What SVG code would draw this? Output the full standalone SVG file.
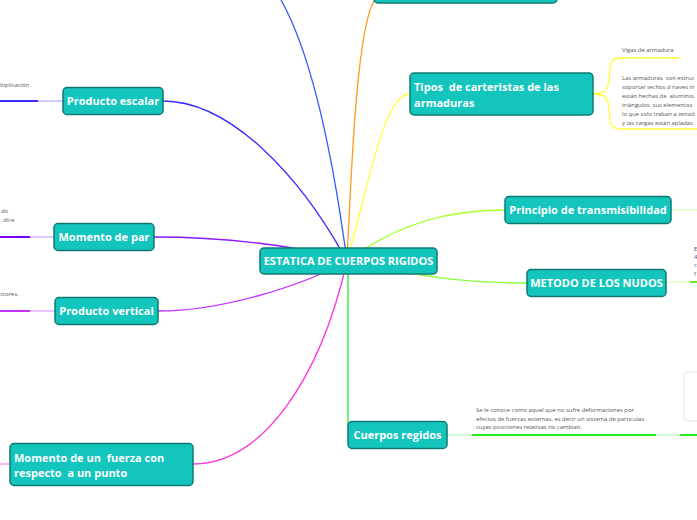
<svg xmlns="http://www.w3.org/2000/svg" width="697" height="520" viewBox="0 0 697 520">
<style>
text{white-space:pre}
.node rect{fill:#14c5bd;stroke:#0f7a73;stroke-width:1.5}
.node text{fill:#fff;font-family:"Open Sans","Noto Sans",sans-serif;font-weight:bold;font-size:11px}
.small{fill:#555;font-family:"Open Sans","Noto Sans",sans-serif;font-size:5.9px}
.c{fill:none;stroke-width:1.3}
</style>
<rect width="697" height="520" fill="#fff"/>
<g id="connectors">
<path class="c" stroke="#3a2bff" d="M347,261 C300,175 230,101 163,101"/>
<path class="c" stroke="#2f5cff" d="M347,261 C332,150 312,55 281,0"/>
<path class="c" stroke="#ff9a1a" d="M347,261 C352,150 358,20 376,-2"/>
<path class="c" stroke="#ffff33" d="M347,261 C372,170 385,94 410,94"/>
<path class="c" stroke="#aaff33" d="M347,261 C400,222 450,210 505,210"/>
<path class="c" stroke="#88ff33" d="M347,261 C420,276 460,283 527,283"/>
<path class="c" stroke="#22ee22" d="M348,261 L348,425"/>
<path class="c" stroke="#8a1aff" d="M347,261 C300,245 220,237 154,237"/>
<path class="c" stroke="#c433ff" d="M347,261 C300,287 220,311 158,311"/>
<path class="c" stroke="#ff33dd" d="M347,261 C320,380 262,464 193,464"/>
<path stroke="#3a2bff" stroke-width="2" d="M0,101 H38"/>
<path stroke="#c4bcff" stroke-width="1.5" d="M38,101 H63"/>
<path stroke="#7a00ff" stroke-width="2" d="M0,237 H30"/>
<path stroke="#d4b0ff" stroke-width="1.5" d="M30,237 H54"/>
<path stroke="#c433ff" stroke-width="2" d="M0,311 H30"/>
<path stroke="#eeb0ff" stroke-width="1.5" d="M30,311 H55"/>
<path stroke="#ff99ee" stroke-width="1.5" d="M0,464 H10"/>
<path class="c" stroke="#ffff33" d="M593,94 C605,94 608,90 609,80 L610,68 C611,60 614,58 622,58 H680"/>
<path class="c" stroke="#ffff33" d="M593,94 C605,94 608,98 609,108 L610,119 C611,127 614,129 622,129 H697"/>
<path stroke="#ddffc0" stroke-width="1.5" d="M671,210 H697"/>
<path stroke="#ddffc0" stroke-width="1.5" d="M666,282 H690"/>
<path stroke="#66ee22" stroke-width="2" d="M690,282 H697"/>
<path stroke="#c8f8c8" stroke-width="1.5" d="M447,435 H472"/>
<path stroke="#22ee22" stroke-width="2" d="M472,435 H656"/>
<path stroke="#c8f8c8" stroke-width="1.5" d="M656,435 H680"/>
<path stroke="#22ee22" stroke-width="2" d="M680,435 H697"/>
</g>
<g id="texts">
<text class="small" x="0" y="87">ltiplicación</text>
<text class="small" x="1" y="213">do</text>
<text class="small" x="3" y="222">dice</text>
<text class="small" x="0" y="296">ctores.</text>
<text class="small" x="622" y="52">Vigas de armadura</text>
<text class="small" x="622" y="80">Las armaduras  son estruc</text>
<text class="small" x="622" y="89">soportar techos d naves in</text>
<text class="small" x="622" y="98">están hechas de  aluminio,</text>
<text class="small" x="622" y="107">triángulos. sus elementos</text>
<text class="small" x="622" y="116">lo que solo traban a tensió</text>
<text class="small" x="622" y="125">y las cargas están apladas</text>
<text class="small" x="694" y="251">E</text>
<text class="small" x="694" y="259">4</text>
<text class="small" x="694" y="267">c</text>
<text class="small" x="694" y="276">f</text>
<text class="small" x="476" y="412">Se le conoce como aquel que no sufre deformaciones por</text>
<text class="small" x="476" y="420.5">efectos de fuerzas externas, es decir un sistema de particulas</text>
<text class="small" x="476" y="429">cuyas posiciones relativas no cambian.</text>
</g>
<rect x="684" y="372" width="30" height="49" rx="4" fill="none" stroke="#e4e4e4" stroke-width="1"/>
<g id="node-top" class="node"><rect x="374" y="-40" width="183" height="43" rx="4"/></g>
<g id="node-center" class="node"><rect x="260" y="248" width="177" height="26" rx="4"/><text x="348.5" y="265" text-anchor="middle">ESTATICA DE CUERPOS RIGIDOS</text></g>
<g id="node-producto-escalar" class="node"><rect x="63" y="87.5" width="100" height="27" rx="4"/><text x="113" y="105" text-anchor="middle">Producto escalar</text></g>
<g id="node-momento-par" class="node"><rect x="54" y="223.5" width="100" height="27" rx="4"/><text x="104" y="241" text-anchor="middle">Momento de par</text></g>
<g id="node-producto-vertical" class="node"><rect x="55" y="297.5" width="103" height="27" rx="4"/><text x="106.5" y="315" text-anchor="middle">Producto vertical</text></g>
<g id="node-momento-fuerza" class="node"><rect x="10" y="443.5" width="183" height="42" rx="4"/><text x="14" y="461.5">Momento de un  fuerza con</text><text x="14" y="477">respecto  a un punto</text></g>
<g id="node-tipos" class="node"><rect x="410" y="73" width="183" height="42" rx="4"/><text x="414" y="91">Tipos  de carteristas de las</text><text x="414" y="106.5">armaduras</text></g>
<g id="node-principio" class="node"><rect x="505" y="196.5" width="166" height="27" rx="4"/><text x="588" y="214" text-anchor="middle">Principio de transmisibilidad</text></g>
<g id="node-metodo" class="node"><rect x="527" y="269.5" width="139" height="27" rx="4"/><text x="596.5" y="287" text-anchor="middle">METODO DE LOS NUDOS</text></g>
<g id="node-cuerpos" class="node"><rect x="348" y="421.5" width="99" height="27" rx="4"/><text x="397.5" y="439" text-anchor="middle">Cuerpos regidos</text></g>
</svg>
